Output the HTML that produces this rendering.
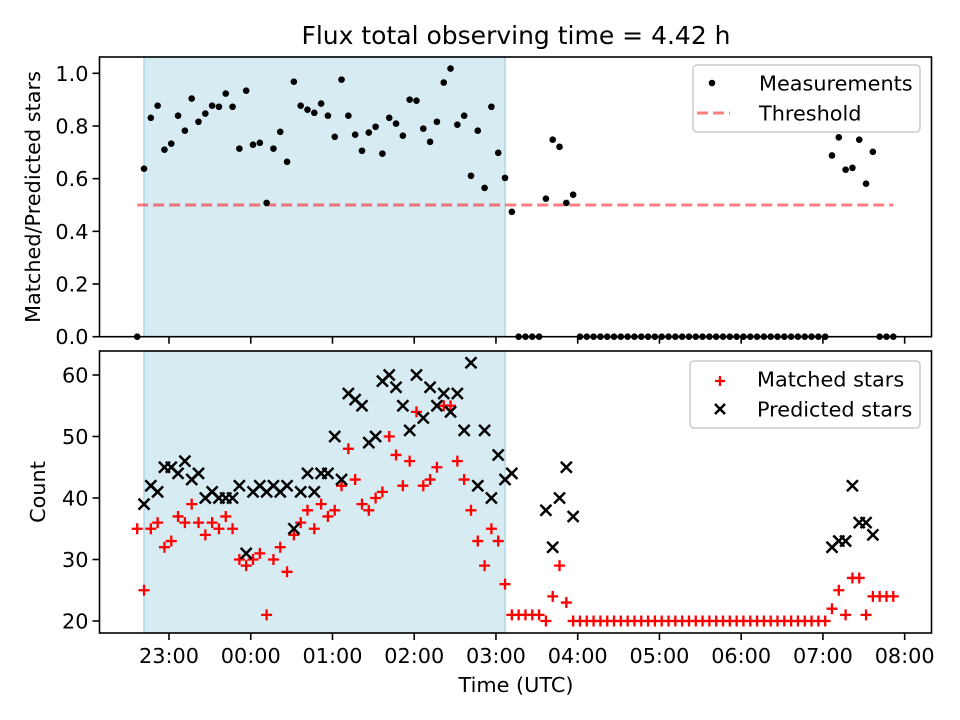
<!DOCTYPE html>
<html><head><meta charset="utf-8"><style>
html,body{margin:0;padding:0;background:#fff;}
svg{display:block;font-family:"DejaVu Sans","Liberation Sans",sans-serif;}
</style></head><body>
<svg id="chart" width="960" height="720" viewBox="0 0 960 720">
<text x="516" y="44" font-size="25" text-anchor="middle" fill="#000">Flux total observing time = 4.42 h</text>
<g id="topPanel"></g>
<g id="botPanel"></g>
</svg>
<script>
const startHour = 22.611;
const stepMin = 5;
const ratioVals = [0,
0.638,0.831,0.877,0.710,0.733,0.839,0.782,0.904,0.816,0.847,
0.877,0.873,0.923,0.873,0.714,0.934,0.729,0.736,0.508,0.714,
0.778,0.664,0.968,0.877,0.862,0.850,0.885,0.839,0.759,0.976,
0.839,0.767,0.706,0.775,0.797,0.695,0.831,0.809,0.763,0.900,
0.896,0.790,0.740,0.816,0.965,1.018,0.805,0.839,0.611,0.782,
0.565,0.873,0.698,0.603,0.474,0,0,0,0,0.524,
0.748,0.721,0.508,0.539,0,0,0,0,0,0,
0,0,0,0,0,0,0,0,0,0,
0,0,0,0,0,0,0,0,0,0,
0,0,0,0,0,0,0,0,0,0,
0,0.688,0.757,0.634,0.641,0.748,0.581,0.702,0,0,0];
const matchedVals = [35,
25,35,36,32,33,37,36,39,36,34,
36,35,37,35,30,29,30,31,21,30,
32,28,34,36,38,35,39,37,38,42,
48,43,39,38,40,41,50,47,42,46,
54,42,43,45,55,55,46,43,38,33,
29,35,33,26,21,21,21,21,21,20,
24,29,23,20,20,20,20,20,20,20,
20,20,20,20,20,20,20,20,20,20,
20,20,20,20,20,20,20,20,20,20,
20,20,20,20,20,20,20,20,20,20,
20,22,25,21,27,27,21,24,24,24,24];
const predictedVals = [null,
39,42,41,45,45,44,46,43,44,40,
41,40,40,40,42,31,41,42,41,42,
41,42,35,41,44,41,44,44,50,43,
57,56,55,49,50,59,60,58,55,51,
60,53,58,55,57,54,57,51,62,42,
51,40,47,43,44,null,null,null,null,38,
32,40,45,37,null,null,null,null,null,null,
null,null,null,null,null,null,null,null,null,null,
null,null,null,null,null,null,null,null,null,null,
null,null,null,null,null,null,null,null,null,null,
null,32,33,33,42,36,36,34,null,null,null];
const xTickLabels = ["23:00","00:00","01:00","02:00","03:00","04:00","05:00","06:00","07:00","08:00"];
const xTickHours = [23,24,25,26,27,28,29,30,31,32];
const ratioTicks = [0,0.2,0.4,0.6,0.8,1.0];
const countTicks = [20,30,40,50,60];
const threshold = 0.5;
const shadeStart = 1, shadeEnd = 54;

const NS="http://www.w3.org/2000/svg";
const L=99.5,R=931.5;
function X(h){return 169+(h-23)*81.74;}
function tIdx(i){return startHour+i*stepMin/60;}
function yTop(v){return 336.7-v*263.4;}
function yBot(v){return 621-(v-20)*6.15;}
function mk(parent,tag,attrs){const e=document.createElementNS(NS,tag);for(const k in attrs)e.setAttribute(k,attrs[k]);parent.appendChild(e);return e;}
const topG=document.getElementById('topPanel'), botG=document.getElementById('botPanel');

function panel(g,y0,y1,ticks,yf,fmt,withLabels,name){
  let r=mk(g,'rect',{x:X(tIdx(shadeStart)),y:y0,width:X(tIdx(shadeEnd))-X(tIdx(shadeStart)),height:y1-y0,fill:'#add8e6','fill-opacity':0.5,stroke:'#add8e6','stroke-width':1.5});
  
  
  ticks.forEach(v=>{
    const y=yf(v);
    let t=mk(g,'line',{x1:L-7,x2:L,y1:y,y2:y,stroke:'#000','stroke-width':1.6});
    
    
    let tx=mk(g,'text',{x:L-11,y:y+7.5,'font-size':20.8,'text-anchor':'end',fill:'#000'});
    tx.textContent=fmt(v);
    
    
  });
  xTickHours.forEach((h,k)=>{
    const x=X(h);
    let t=mk(g,'line',{x1:x,x2:x,y1:y1,y2:y1+7,stroke:'#000','stroke-width':1.6});
    
    
    if(withLabels){
      let tx=mk(g,'text',{x:x,y:y1+30,'font-size':20.8,'text-anchor':'middle',fill:'#000'});
      tx.textContent=xTickLabels[k];
      
      
    }
  });
}
panel(topG,57,336.7,ratioTicks,yTop,v=>v.toFixed(1),false,'top');
panel(botG,351,633,countTicks,yBot,v=>String(v),true,'bottom');

let th=mk(topG,'line',{x1:X(tIdx(0)),x2:X(tIdx(ratioVals.length-1)),y1:yTop(threshold),y2:yTop(threshold),stroke:'#ff0000','stroke-opacity':0.5,'stroke-width':3,'stroke-dasharray':'11,5'});


ratioVals.forEach((v,i)=>{
  let c=mk(topG,'circle',{cx:X(tIdx(i)),cy:yTop(v),r:3.3,fill:'#000'});
  
  
});
matchedVals.forEach((v,i)=>{
  if(v===null)return;
  const x=X(tIdx(i)),y=yBot(v),s=5.5;
  let p=mk(botG,'path',{d:`M${x-s},${y}H${x+s}M${x},${y-s}V${y+s}`,stroke:'#ff0000','stroke-width':2.3});
  
  
});
predictedVals.forEach((v,i)=>{
  if(v===null)return;
  const x=X(tIdx(i)),y=yBot(v),s=5.5;
  let p=mk(botG,'path',{d:`M${x-s},${y-s}L${x+s},${y+s}M${x-s},${y+s}L${x+s},${y-s}`,stroke:'#000','stroke-width':2.5});
  
  
});
[[topG,57,336.7],[botG,351,633]].forEach(([g,a,b])=>{
  let f=mk(g,'rect',{x:L,y:a,width:R-L,height:b-a,fill:'none',stroke:'#000','stroke-width':1.6});
  
  
});
</script>
<script>
(function(){
const NS="http://www.w3.org/2000/svg";
const svg=document.getElementById('chart');
function mk(tag,attrs,txt){const e=document.createElementNS(NS,tag);for(const k in attrs)e.setAttribute(k,attrs[k]);if(txt)e.textContent=txt;svg.appendChild(e);return e;}
let e;
e=mk('text',{x:0,y:0,'font-size':20.8,'text-anchor':'middle',transform:'translate(40,197) rotate(-90)'},'Matched/Predicted stars');


e=mk('text',{x:0,y:0,'font-size':20.8,'text-anchor':'middle',transform:'translate(45,492) rotate(-90)'},'Count');


e=mk('text',{x:516,y:692,'font-size':20.8,'text-anchor':'middle'},'Time (UTC)');


e=mk('rect',{x:693,y:65,width:227,height:67,rx:4,fill:'#fff','fill-opacity':0.8,stroke:'#ccc','stroke-width':1.5});


e=mk('circle',{cx:712,cy:83,r:3.3,fill:'#000'});


e=mk('text',{x:759,y:90.5,'font-size':20.8},'Measurements');


e=mk('line',{x1:697,x2:730,y1:113,y2:113,stroke:'#ff0000','stroke-opacity':0.5,'stroke-width':3,'stroke-dasharray':'11,5'});


e=mk('text',{x:759,y:120.5,'font-size':20.8},'Threshold');


e=mk('rect',{x:690,y:361,width:230,height:67,rx:4,fill:'#fff','fill-opacity':0.8,stroke:'#ccc','stroke-width':1.5});


e=mk('path',{d:'M715,381H725M720,376V386',stroke:'#ff0000','stroke-width':2.3});


e=mk('text',{x:757,y:386.5,'font-size':20.8},'Matched stars');


e=mk('path',{d:'M715,404L725,414M715,414L725,404',stroke:'#000','stroke-width':2.5});


e=mk('text',{x:757,y:416.5,'font-size':20.8},'Predicted stars');


})();
</script>
</body></html>
